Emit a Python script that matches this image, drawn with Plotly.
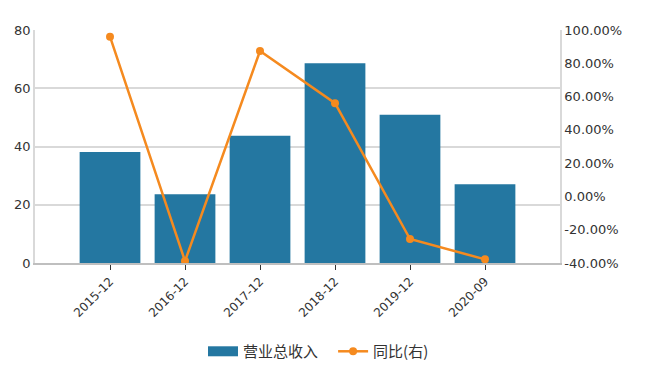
import plotly.graph_objects as go

categories = ["2015-12", "2016-12", "2017-12", "2018-12", "2019-12", "2020-09"]
revenue = [38.1, 23.6, 43.7, 68.6, 50.9, 27.0]
yoy_pct = [96.0, -38.8, 87.4, 56.0, -25.6, -37.8]

left_ticks = [0, 20, 40, 60, 80]
right_ticks = [-40, -20, 0, 20, 40, 60, 80, 100]
right_labels = [f"{v:.2f}%" for v in right_ticks]

bar_color = "#2477a1"
line_color = "#f58a1f"

idx = list(range(len(categories)))

fig = go.Figure()
fig.add_trace(go.Bar(
    x=idx, y=revenue, name="营业总收入", width=0.81, showlegend=False,
    marker=dict(color=bar_color, line=dict(width=0)),
))
# legend proxy giving a wide rectangular swatch for the bar series
fig.add_trace(go.Scatter(
    x=[None], y=[None], name="营业总收入&nbsp;&nbsp;&nbsp;", mode="lines",
    line=dict(color=bar_color, width=11), hoverinfo="skip",
))
fig.add_trace(go.Scatter(
    x=idx, y=yoy_pct, name="同比(右)", yaxis="y2", mode="lines+markers",
    line=dict(color=line_color, width=2.5),
    marker=dict(color=line_color, size=8),
))

font_family = "DejaVu Sans, Verdana, Noto Sans CJK SC, sans-serif"
fig.update_layout(
    width=661, height=378,
    margin=dict(l=35, r=101, t=30, b=115, autoexpand=False),
    plot_bgcolor="white", paper_bgcolor="white",
    font=dict(family=font_family, size=12, color="#333333"),
    showlegend=True,
    legend=dict(orientation="h", x=0.54, xanchor="center", y=-0.38, yanchor="middle",
                font=dict(size=15, color="#333333", family="Noto Sans CJK SC, sans-serif"),
                itemwidth=30),
    xaxis=dict(
        range=[-1, 6], tickmode="array", tickvals=idx, ticktext=categories,
        tickangle=-45, ticks="outside", ticklen=5, tickcolor="#333333",
        showline=True, linecolor="#bfbfbf", linewidth=1.5, showgrid=False, zeroline=False,
        tickfont=dict(size=12, color="#333333"), automargin=False,
    ),
    yaxis=dict(
        range=[0, 80], tickmode="array", tickvals=left_ticks,
        showgrid=True, gridcolor="#d9d9d9", gridwidth=1.5,
        showline=True, linecolor="#d9d9d9", linewidth=1.5, zeroline=False,
        tickfont=dict(size=13, color="#333333"), automargin=False,
    ),
    yaxis2=dict(
        range=[-40, 100], overlaying="y", side="right", tickmode="array",
        tickvals=right_ticks, ticktext=right_labels,
        showgrid=False, showline=True, linecolor="#d9d9d9", linewidth=1.5, zeroline=False,
        tickfont=dict(size=13, color="#333333"), automargin=False,
    ),
)

fig.write_html("out.html", config={"displayModeBar": False},
               post_script="document.body.style.margin='0';")
